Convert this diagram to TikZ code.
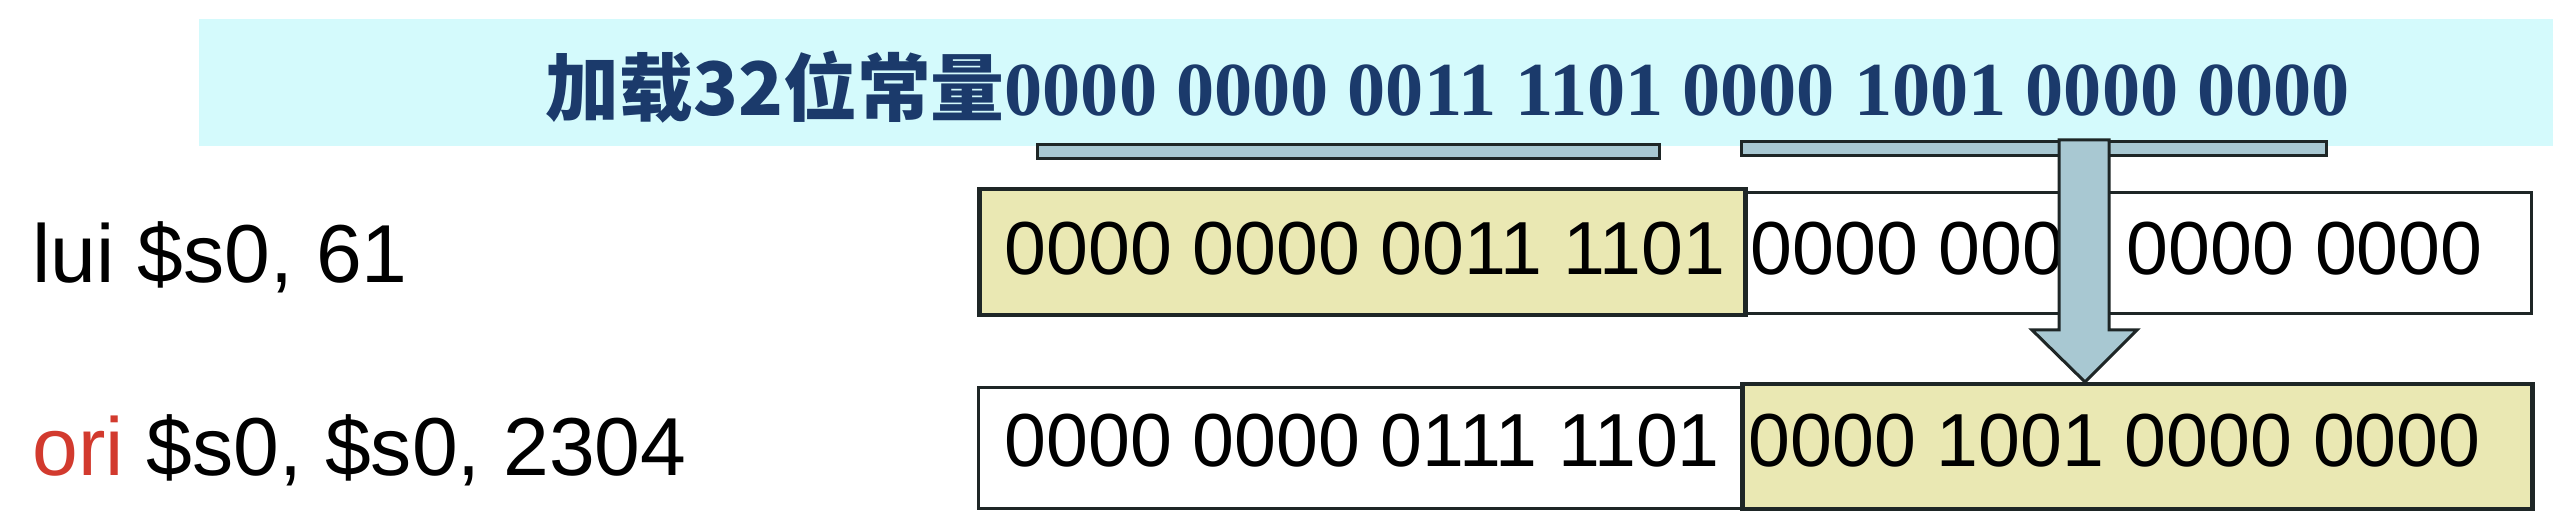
\documentclass[tikz,border=0pt]{standalone}
\usepackage{fontspec}
\setmainfont{Liberation Sans}
\newfontfamily\serifbold{Liberation Serif}
\newfontfamily\cjk{Noto Sans CJK SC}
\usetikzlibrary{calc}

\definecolor{bannerbg}{HTML}{D4FAFC}
\definecolor{navy}{HTML}{1B3A6B}
\definecolor{barblue}{HTML}{A8C8D2}
\definecolor{halfyel}{HTML}{EAE8B3}
\definecolor{oricol}{HTML}{D23A2E}
\definecolor{edge}{HTML}{1E2626}

\begin{document}
\begin{tikzpicture}[x=0.1mm, y=-0.1mm, line join=miter,
  field/.style={draw=edge, line width=0.3mm, fill=white, anchor=north west, inner sep=0pt},
  bar/.style={draw=edge, line width=0.3mm, fill=barblue, anchor=north west, inner sep=0pt, minimum height=1.4mm},
  bits/.style={font=\fontsize{21.4}{24}\selectfont, anchor=base west, inner sep=0pt},
  instr/.style={font=\fontsize{23.4}{27}\selectfont, anchor=base west, inner sep=0pt}]
  \useasboundingbox (0,0) rectangle (2560,532);
  % title strip
  \node[fill=bannerbg, anchor=north west, inner sep=0pt, minimum width=235.4mm, minimum height=12.7mm] (banner) at (198,18) {};
  \node[anchor=base west, inner sep=0pt, text=navy, font=\fontsize{21}{24}\selectfont\bfseries] (title) at (545,116)
    {{\cjk 加载32位常量}{\serifbold\fontsize{21.7}{24}\selectfont 0000 0000 0011 1101 0000 1001 0000 0000}};
  \node[bar, minimum width=62.2mm] (bar1) at (1036,143) {};
  \node[bar, minimum width=58.5mm] (bar2) at (1740,140) {};
  % instructions
  \node[instr] (lui) at (32,283) {lui \$s0, 61};
  \node[instr] (ori) at (32,476) {{\color{oricol}ori} \$s0, \$s0, 2304};
  % lui result
  \node[field, minimum width=78.7mm, minimum height=12.1mm] (luilo) at (1743,191) {};
  \node[field, fill=halfyel, line width=0.45mm, minimum width=76.6mm, minimum height=12.6mm] (luihi) at (977,187) {};
  \node[bits] (luihitxt) at (1004,275) {0000 0000 0011 1101};
  \node[bits] (luilotxt) at (1750,275) {0000 0000 0000 0000};
  % ori result
  \node[field, minimum width=76.3mm, minimum height=12.1mm] (orihi) at (977,386) {};
  \node[field, fill=halfyel, line width=0.45mm, minimum width=79mm, minimum height=12.5mm] (orilo) at (1740,382) {};
  \node[bits] (orihitxt) at (1004,467) {0000 0000 0111 1101};
  \node[bits] (orilotxt) at (1748,467) {0000 1001 0000 0000};
  % arrow
  \draw[draw=edge, line width=0.3mm, fill=barblue]
    (2059,0 |- bar2.north) -- (2109,0 |- bar2.north) -- (2109,330) -- (2137,330)
    -- (2085,0 |- orilo.north) -- (2032,330) -- (2059,330) -- cycle;
\end{tikzpicture}
\end{document}
